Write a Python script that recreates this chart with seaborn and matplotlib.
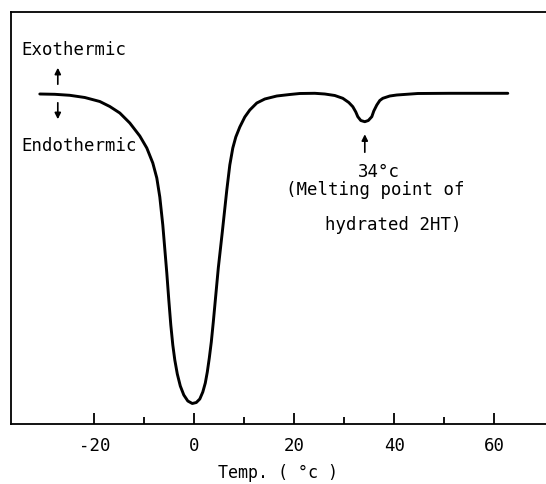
import numpy as np
import pandas as pd
import matplotlib
matplotlib.use("Agg")
import matplotlib.pyplot as plt
from matplotlib.ticker import FixedLocator
import seaborn as sns

# DSC curve (temperature in °C, signal in arbitrary units)
temp_c = [-30.9, -27.9, -24.9, -21.9, -18.9, -16.9, -14.9, -12.9, -10.9, -9.5,
          -8.3, -7.5, -6.9, -6.3, -5.5, -5.1, -4.7, -4.3, -3.9, -3.4,
          -2.8, -2.1, -1.3, -0.4, 0.4, 1.1, 1.7, 2.2, 2.6, 3.0,
          3.4, 3.8, 4.3, 4.8, 5.6, 6.5, 7.1, 7.7, 8.3, 9.1,
          10.1, 11.1, 12.5, 14.1, 16.5, 19.1, 21.1, 24.1, 26.1, 28.1,
          29.7, 30.9, 31.7, 32.3, 32.7, 33.3, 34.1, 34.8, 35.5, 35.9,
          36.5, 37.1, 37.7, 39.1, 40.5, 44.7, 51.1, 62.7]
heat_flow = [-0.5, -0.8, -1.8, -4.0, -8.0, -13.0, -19.5, -29.5, -42.5, -54.5,
             -69.5, -84.5, -103.5, -131.5, -179.5, -206.5, -231.5, -251.5, -266.5, -280.5,
             -292.5, -301.5, -307.5, -310.0, -309.0, -305.5, -298.5, -289.5, -278.5, -264.5,
             -248.5, -228.5, -201.5, -174.5, -138.5, -96.5, -71.5, -54.5, -43.5, -33.5,
             -23.5, -16.5, -9.5, -5.5, -2.5, -1.0, 0.0, 0.2, -0.5, -2.0,
             -4.8, -9.0, -13.2, -18.5, -23.2, -27.0, -28.2, -27.0, -23.2, -17.5,
             -11.5, -7.0, -4.8, -2.5, -1.5, 0.0, 0.2, 0.2]

major_ticks = [-20, 0, 20, 40, 60]
major_labels = ["-20", "0", "20", "40", "60"]
minor_ticks = [-10, 10, 30, 50]

sns.set_style("ticks")
plt.rcParams["font.family"] = ["DejaVu Sans Mono", "DejaVu Sans"]
plt.rcParams["text.color"] = "black"
plt.rcParams["axes.labelcolor"] = "black"

fig = plt.figure(figsize=(5.46, 4.84), dpi=100)
ax = fig.add_axes([11 / 546, 60 / 484, 535 / 546, 412 / 484])

df = pd.DataFrame({"Temp": temp_c, "Signal": heat_flow})
sns.lineplot(data=df, x="Temp", y="Signal", ax=ax, color="black",
             linewidth=2.1, sort=False, estimator=None)

ax.set_xlim(-36.66, 70.34)
ax.set_ylim(-330.5, 81.5)

ax.xaxis.set_major_locator(FixedLocator(major_ticks))
ax.set_xticklabels(major_labels)
ax.xaxis.set_minor_locator(FixedLocator(minor_ticks))
ax.set_yticks([])
ax.tick_params(axis="x", which="major", direction="in", length=8, width=1.3,
               labelsize=12.5, pad=9.5, colors="black")
ax.tick_params(axis="x", which="minor", direction="in", length=5, width=1.3,
               colors="black")

for side in ("left", "top", "bottom"):
    ax.spines[side].set_linewidth(1.3)
    ax.spines[side].set_color("black")
ax.spines["right"].set_visible(False)

ax.set_xlabel("Temp. ( °c )", fontsize=12, labelpad=6, color="black")
ax.set_ylabel("")

fs = 12.5
ax.text(-34.5, 43.5, "Exothermic", fontsize=fs, ha="left", va="center", color="black")
ax.text(-34.5, -52.5, "Endothermic", fontsize=fs, ha="left", va="center", color="black")
arrow = dict(arrowstyle="-|>", lw=1.2, color="black", mutation_scale=9)
ax.annotate("", xy=(-27.3, 28.5), xytext=(-27.3, 6.5), arrowprops=arrow)
ax.annotate("", xy=(-27.3, -28.5), xytext=(-27.3, -6.5), arrowprops=arrow)
ax.annotate("", xy=(34.1, -38.0), xytext=(34.1, -61.5), arrowprops=arrow)
ax.text(32.7, -78.2, "34°c", fontsize=fs, ha="left", va="center", color="black")
ax.text(18.3, -96.5, "(Melting point of", fontsize=fs, ha="left", va="center", color="black")
ax.text(26.1, -131.5, "hydrated 2HT)", fontsize=fs, ha="left", va="center", color="black")

fig.savefig("out.png", dpi=100)
